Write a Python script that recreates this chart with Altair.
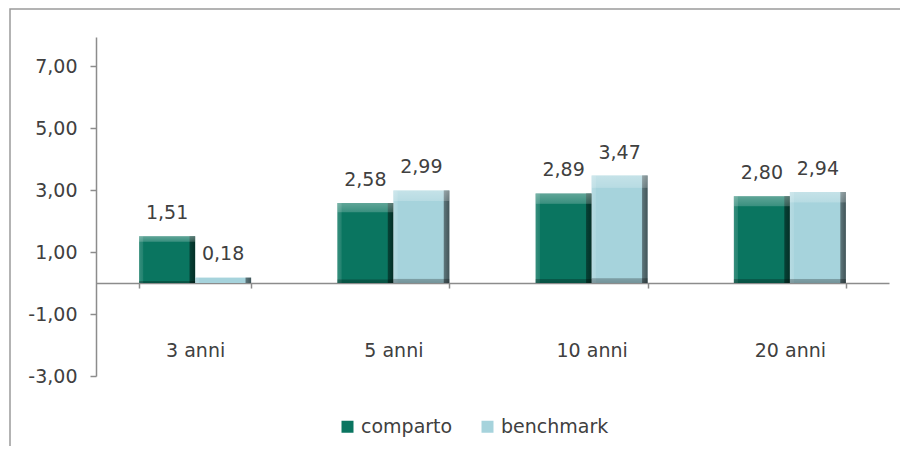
import altair as alt
import pandas as pd

# ---- data ----
categories = ["3 anni", "5 anni", "10 anni", "20 anni"]
series = ["comparto", "benchmark"]
comparto = [1.51, 2.58, 2.89, 2.80]
benchmark = [0.18, 2.99, 3.47, 2.94]
y_ticks = [-3, -1, 1, 3, 5, 7]
y_min, y_max = -3, 7.94
colors = ["#0A7560", "#A6D3DC"]

rows = []
for i, c in enumerate(categories):
    for s, vals in zip(series, [comparto, benchmark]):
        v = vals[i]
        rows.append({"periodo": c, "serie": s, "valore": v,
                     "etichetta": f"{v:.2f}".replace(".", ",")})
df = pd.DataFrame(rows)

# ---- layout / style ----
W, H = 793, 339
zero_offset = -H * (0 - y_min) / (y_max - y_min)
font = "DejaVu Sans"
text_color = "#404040"
axis_color = "#8C8C8C"

x_enc = alt.X(
    "periodo:N", sort=categories,
    scale=alt.Scale(paddingInner=0.435, paddingOuter=0.2175),
    axis=alt.Axis(title=None, orient="bottom", offset=zero_offset,
                  domainColor=axis_color, domainWidth=1.5,
                  tickColor=axis_color, tickWidth=1.5, tickSize=5,
                  tickBand="extent", labelPadding=62, labelBaseline="middle",
                  labelAngle=0, labelFontSize=19, labelColor=text_color,
                  labelFont=font, grid=False),
)
xo_enc = alt.XOffset("serie:N", sort=series)
y_enc = alt.Y(
    "valore:Q",
    scale=alt.Scale(domain=[y_min, y_max], nice=False),
    axis=alt.Axis(title=None, values=y_ticks, grid=False,
                  labelExpr="replace(replace(format(datum.value, '.2f'), '.', ','), '\u2212', '-')",
                  domainColor=axis_color, domainWidth=1.5,
                  tickColor=axis_color, tickWidth=1.5, tickSize=6,
                  labelPadding=13, labelFontSize=19, labelColor=text_color,
                  labelFont=font),
)

base = alt.Chart(df)

bars = base.mark_bar().encode(
    x=x_enc, xOffset=xo_enc, y=y_enc, y2=alt.datum(0),
    color=alt.Color(
        "serie:N", sort=series,
        scale=alt.Scale(domain=series, range=colors),
        legend=alt.Legend(title=None, orient="none", legendX=242, legendY=380,
                          direction="horizontal", symbolType="square",
                          symbolSize=144, symbolStrokeWidth=0,
                          labelFontSize=19, labelColor=text_color,
                          labelFont=font, columnPadding=25, labelOffset=4,
                          padding=0),
    ),
)

shade_h = base.mark_bar(
    fill=alt.LinearGradient(
        gradient="linear", x1=0, y1=0, x2=1, y2=0,
        stops=[
            alt.GradientStop(color="rgba(255,255,255,0.18)", offset=0),
            alt.GradientStop(color="rgba(255,255,255,0.10)", offset=0.07),
            alt.GradientStop(color="rgba(255,255,255,0)", offset=0.08),
            alt.GradientStop(color="rgba(0,0,0,0)", offset=0.89),
            alt.GradientStop(color="rgba(0,0,0,0.45)", offset=0.91),
            alt.GradientStop(color="rgba(0,0,0,0.6)", offset=1),
        ],
    )
).encode(x=x_enc, xOffset=xo_enc, y=y_enc, y2=alt.datum(0))

shade_v = base.mark_bar(
    fill=alt.LinearGradient(
        gradient="linear", x1=0, y1=0, x2=0, y2=1,
        stops=[
            alt.GradientStop(color="rgba(255,255,255,0.35)", offset=0),
            alt.GradientStop(color="rgba(255,255,255,0.2)", offset=0.11),
            alt.GradientStop(color="rgba(255,255,255,0)", offset=0.12),
            alt.GradientStop(color="rgba(0,0,0,0)", offset=0.95),
            alt.GradientStop(color="rgba(0,0,0,0.25)", offset=0.96),
            alt.GradientStop(color="rgba(0,0,0,0.3)", offset=1),
        ],
    )
).encode(x=x_enc, xOffset=xo_enc, y=y_enc, y2=alt.datum(0))

labels = base.mark_text(dy=-23, baseline="middle", align="center",
                        fontSize=19, font=font, color=text_color).encode(
    x=x_enc, xOffset=xo_enc, y=y_enc, text="etichetta:N"
)

frame = alt.Chart(pd.DataFrame({"f": [0]})).mark_rect(
    fill="white", fillOpacity=0, stroke="#9A9A9A", strokeWidth=1.5
).encode(x=alt.value(-86), x2=alt.value(1000), y=alt.value(-28), y2=alt.value(700))

chart = alt.layer(frame, bars, shade_h, shade_v, labels).properties(
    width=W, height=H,
    padding={"left": 88, "top": 29, "right": 11, "bottom": 70},
    autosize=alt.AutoSizeParams(type="none"),
).configure_view(stroke=None)

chart.save("out.html", embed_options={"renderer": "svg", "actions": False})
